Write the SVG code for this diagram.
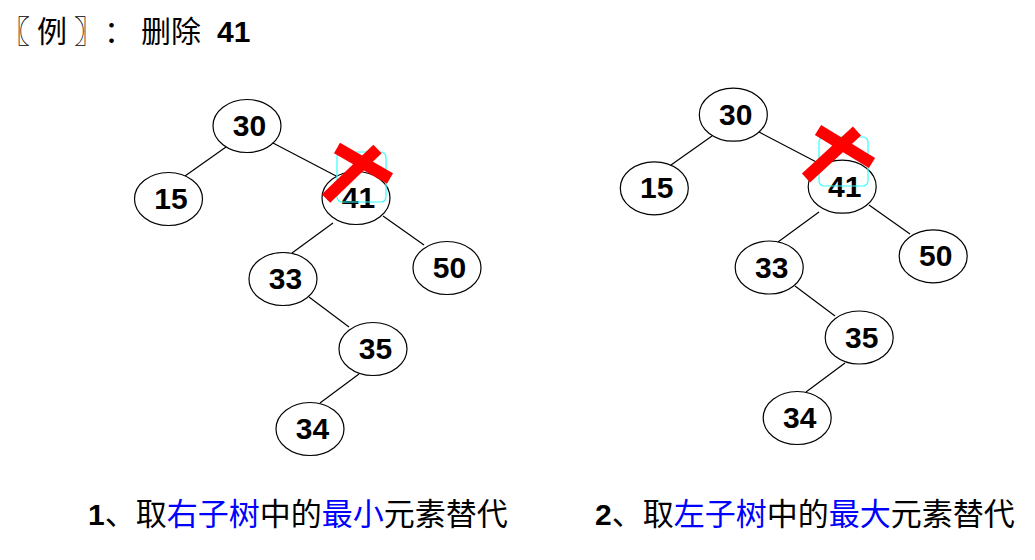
<svg xmlns="http://www.w3.org/2000/svg" width="1035" height="560" viewBox="0 0 1035 560">
<style>
.n ellipse{fill:#fff;stroke:#000;stroke-width:1.2}
.n text{font-family:"Liberation Sans",Arial,sans-serif;font-weight:bold;font-size:30px;text-anchor:middle;fill:#000}
.e line{stroke:#000;stroke-width:1.2}
.cjk{font-family:"Noto Sans CJK SC","Noto Sans",sans-serif;fill:#000}
.num{font-family:"Liberation Sans",Arial,sans-serif;font-weight:bold}
.blue{fill:#0000ff}
.sel{fill:none;stroke:#33ffff;stroke-width:1.2}
.x{stroke:#ff0000;stroke-width:12;stroke-linecap:butt}
</style>
<rect width="1035" height="560" fill="#fff"/>
<g id="title">
<text class="cjk" y="42" font-size="30"><tspan x="0">〖</tspan><tspan x="37">例</tspan><tspan x="74">〗</tspan><tspan x="104">：</tspan><tspan x="141">删除</tspan></text>
<text class="num" x="217" y="42" font-size="30">41</text>
</g>

<!-- Left tree -->
<g id="left-edges" class="e">
<line x1="226" y1="147" x2="185" y2="176"/>
<line x1="273" y1="143" x2="338" y2="177"/>
<line x1="333" y1="223" x2="292" y2="253"/>
<line x1="383" y1="216" x2="424" y2="245"/>
<line x1="309" y1="297" x2="349" y2="327"/>
<line x1="359" y1="374" x2="320" y2="403"/>
</g>
<g id="L30" class="n"><ellipse cx="247" cy="126" rx="34" ry="26.5"/><text x="249.5" y="136">30</text></g>
<g id="L15" class="n"><ellipse cx="168.5" cy="199" rx="34" ry="26.5"/><text x="171" y="209">15</text></g>
<g id="L41" class="n"><ellipse cx="356" cy="198" rx="34" ry="26.5"/><text x="358.5" y="208">41</text></g>
<g id="L50" class="n"><ellipse cx="447" cy="268" rx="34" ry="26.5"/><text x="449.5" y="278">50</text></g>
<g id="L33" class="n"><ellipse cx="283" cy="279" rx="34" ry="26.5"/><text x="285.5" y="289">33</text></g>
<g id="L35" class="n"><ellipse cx="373" cy="349" rx="34" ry="26.5"/><text x="375.5" y="359">35</text></g>
<g id="L34" class="n"><ellipse cx="310" cy="429" rx="34" ry="26.5"/><text x="312.5" y="439">34</text></g>
<g id="L-mark">
<rect class="sel" x="337" y="152" width="49" height="50" rx="5"/>
<line class="x" x1="337" y1="148" x2="390" y2="178.5"/>
<line class="x" x1="377.5" y1="149" x2="326" y2="198.5"/>
</g>

<!-- Right tree -->
<g id="right-edges" class="e">
<line x1="712" y1="136" x2="671" y2="165"/>
<line x1="759" y1="132" x2="824" y2="166"/>
<line x1="819" y1="212" x2="778" y2="242"/>
<line x1="869" y1="205" x2="910" y2="234"/>
<line x1="795" y1="286" x2="835" y2="316"/>
<line x1="845" y1="363" x2="806" y2="392"/>
</g>
<g id="R30" class="n"><ellipse cx="733.3" cy="114.7" rx="34" ry="26.5"/><text x="735.8" y="124.7">30</text></g>
<g id="R15" class="n"><ellipse cx="654.3" cy="188.3" rx="34" ry="26.5"/><text x="656.8" y="198.3">15</text></g>
<g id="R41" class="n"><ellipse cx="842.2" cy="186.7" rx="34" ry="26.5"/><text x="844.7" y="196.7">41</text></g>
<g id="R50" class="n"><ellipse cx="933.2" cy="256.3" rx="34" ry="26.5"/><text x="935.7" y="266.3">50</text></g>
<g id="R33" class="n"><ellipse cx="769.2" cy="267.5" rx="34" ry="26.5"/><text x="771.7" y="277.5">33</text></g>
<g id="R35" class="n"><ellipse cx="859.2" cy="337.5" rx="34" ry="26.5"/><text x="861.7" y="347.5">35</text></g>
<g id="R34" class="n"><ellipse cx="797.2" cy="418" rx="34" ry="26.5"/><text x="799.7" y="428">34</text></g>
<g id="R-mark">
<rect class="sel" x="819" y="137" width="49" height="49" rx="5"/>
<line class="x" x1="818" y1="130" x2="872" y2="163"/>
<line class="x" x1="857" y1="131" x2="806" y2="178"/>
</g>

<g id="caption-left">
<text class="cjk" y="525" font-size="31"><tspan x="88" class="num" font-size="30">1</tspan><tspan>、取</tspan><tspan class="blue">右子树</tspan><tspan>中的</tspan><tspan class="blue">最小</tspan><tspan>元素替代</tspan></text>
</g>
<g id="caption-right">
<text class="cjk" y="525" font-size="31"><tspan x="595" class="num" font-size="30">2</tspan><tspan>、取</tspan><tspan class="blue">左子树</tspan><tspan>中的</tspan><tspan class="blue">最大</tspan><tspan>元素替代</tspan></text>
</g>
</svg>
